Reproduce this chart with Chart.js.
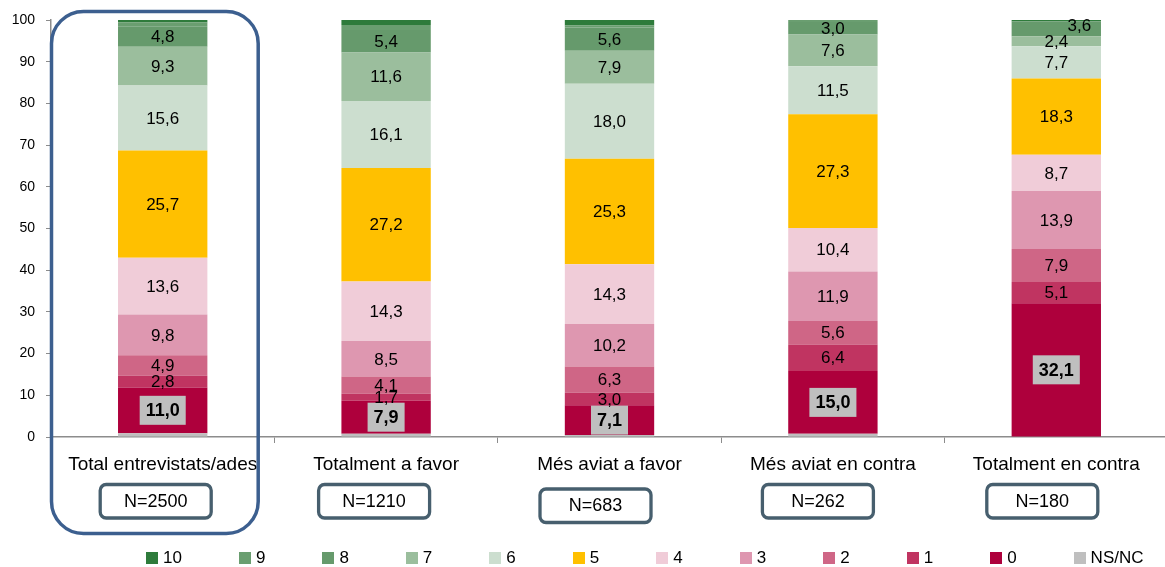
<!DOCTYPE html>
<html>
<head>
<meta charset="utf-8">
<script src="https://cdn.jsdelivr.net/npm/chart.js@4/dist/chart.umd.min.js"></script>
<style>
	html, body { margin: 0; padding: 0; background: #fff; overflow: hidden; }
	.chart-container { position: relative; width: 1168px; height: 567px; }
	#legend-container { position: absolute; left: 146px; top: 548px; }
	.legend-list { display: flex; list-style: none; margin: 0; padding: 0; }
	.legend-element { display: flex; align-items: center; margin-right: 57px; }
	.legend-element-color { display: inline-block; width: 12px; height: 12px; margin-right: 5px; }
	.legend-element-text { margin: 0; font: 17px 'Liberation Sans', Arial, sans-serif; line-height: 20px; color: #000; }
</style>
</head>
<body>
<div class="chart-container">
	<canvas id="scoreChart"></canvas>
	<div id="legend-container"></div>
</div>
<script>
// categories and sample sizes
const categories = ['Total entrevistats/ades', 'Totalment a favor', 'Més aviat a favor', 'Més aviat en contra', 'Totalment en contra'];
const sampleSizes = [2500, 1210, 683, 262, 180];

// series, stacked from the bottom up
const seriesNames = ['NS/NC', '0', '1', '2', '3', '4', '5', '6', '7', '8', '9', '10'];
const nsnc    = [0.9, 0.8, 0.5, 0.8, 0.0];
const score0  = [11.0, 7.9, 7.1, 15.0, 32.1];
const score1  = [2.8, 1.7, 3.0, 6.4, 5.1];
const score2  = [4.9, 4.1, 6.3, 5.6, 7.9];
const score3  = [9.8, 8.5, 10.2, 11.9, 13.9];
const score4  = [13.6, 14.3, 14.3, 10.4, 8.7];
const score5  = [25.7, 27.2, 25.3, 27.3, 18.3];
const score6  = [15.6, 16.1, 18.0, 11.5, 7.7];
const score7  = [9.3, 11.6, 7.9, 7.6, 2.4];
const score8  = [4.8, 5.4, 5.6, 3.0, 3.6];
const score9  = [1.0, 1.2, 0.5, 0.5, 0.0];
const score10 = [0.6, 1.2, 1.3, 0.0, 0.3];

// y axis tick labels
const yTickValues = [0, 10, 20, 30, 40, 50, 60, 70, 80, 90, 100];

// series that get a value label on the bar
const labelledSeries = ['0', '1', '2', '3', '4', '5', '6', '7', '8'];

const seriesValues = [nsnc, score0, score1, score2, score3, score4, score5, score6, score7, score8, score9, score10];
const seriesColors = ['#BFBFBF', '#AE003C', '#C03461', '#CF6686', '#DE97B0', '#F0CCD8', '#FFC000', '#CCDECF', '#9BBE9D', '#669A6C', '#6A9E70', '#2E7B3B'];

const FONT = "'Liberation Sans', Arial, sans-serif";

const formatComma = (v) => v.toFixed(1).replace('.', ',');

const valueLabels = {
	id: 'valueLabels',
	afterDatasetsDraw(chart) {
		const {ctx} = chart;
		ctx.save();
		ctx.textAlign = 'center';
		ctx.textBaseline = 'middle';

		chart.data.datasets.forEach((ds, i) => {
			if (!labelledSeries.includes(ds.label)) return;
			const meta = chart.getDatasetMeta(i);

			meta.data.forEach((bar, j) => {
				const value = ds.data[j];
				if (!value) return;
				const text = formatComma(value);
				let x = bar.x;
				let y = (bar.y + bar.base) / 2;

				// last bar: the small "8" label sits up and to the right
				if (ds.label === '8' && j === 4) { x += 23; y -= 3; }

				if (ds.label === '0') {
					// bold label in a grey box
					ctx.font = 'bold 18px ' + FONT;
					const w = ctx.measureText(text).width + 12;
					ctx.fillStyle = '#BFBFBF';
					ctx.fillRect(x - w / 2, y - 14.5, w, 29);
					ctx.fillStyle = '#000';
					ctx.fillText(text, x, y + 1);
				} else {
					ctx.font = '17px ' + FONT;
					ctx.fillStyle = '#000';
					ctx.fillText(text, x, y + 1);
				}
			});
		});
		ctx.restore();
	}
};

// N boxes under the category labels + highlight frame round the first category
const nBoxShift = [-7, -12, -14, -15, -14];
const annotations = {
	id: 'annotations',
	afterDraw(chart) {
		const {ctx, chartArea} = chart;
		const xScale = chart.scales.x;
		ctx.save();

		categories.forEach((c, i) => {
			const cx = xScale.getPixelForValue(i) + nBoxShift[i];
			const top = i === 2 ? 489 : 484.5;
			ctx.beginPath();
			ctx.roundRect(cx - 55.5, top, 111, 33.5, 6);
			ctx.lineWidth = 3.3;
			ctx.strokeStyle = '#475F6E';
			ctx.stroke();

			ctx.font = '18px ' + FONT;
			ctx.fillStyle = '#000';
			ctx.textAlign = 'center';
			ctx.textBaseline = 'middle';
			ctx.fillText('N=' + sampleSizes[i], cx, top + 17.5);
		});

		// highlight frame
		const c0 = xScale.getPixelForValue(0);
		ctx.beginPath();
		ctx.roundRect(chartArea.left + 0.5, chartArea.top - 8.5, c0 + 95 - chartArea.left, 533.5 - chartArea.top + 8.5, 32);
		ctx.lineWidth = 3.5;
		ctx.strokeStyle = '#3C5F8F';
		ctx.stroke();

		ctx.restore();
	}
};

const htmlLegendPlugin = {
	id: 'htmlLegend',
	afterUpdate(chart, args, options) {
		const legendContainer = document.getElementById(options.containerID);
		let listContainer = legendContainer.querySelector('ul');
		if (!listContainer) {
			listContainer = document.createElement('ul');
			listContainer.className = 'legend-list';
			legendContainer.appendChild(listContainer);
		}
		while (listContainer.firstChild) listContainer.firstChild.remove();

		// legend goes 10 ... 0, NS/NC
		const items = chart.data.datasets.map(ds => ds).reverse();
		items.forEach(ds => {
			const li = document.createElement('li');
			li.className = 'legend-element';
			const box = document.createElement('span');
			box.className = 'legend-element-color';
			box.style.backgroundColor = ds.backgroundColor;
			const p = document.createElement('p');
			p.className = 'legend-element-text';
			p.appendChild(document.createTextNode(ds.label));
			li.appendChild(box);
			li.appendChild(p);
			listContainer.appendChild(li);
		});
	}
};

const datasets = seriesNames.map((name, i) => ({
	label: name,
	data: seriesValues[i],
	backgroundColor: seriesColors[i],
	borderWidth: 0,
	barPercentage: 0.8,
	categoryPercentage: 0.5
}));

new Chart(document.getElementById('scoreChart'), {
	type: 'bar',
	data: { labels: categories, datasets },
	options: {
		responsive: true,
		maintainAspectRatio: false,
		animation: false,
		layout: { padding: { top: 20, right: 0, bottom: 0, left: 0 } },
		scales: {
			x: {
				stacked: true,
				border: { color: '#8C8C8C', width: 1.5 },
				grid: { drawOnChartArea: false, tickLength: 6, color: '#8C8C8C' },
				ticks: { color: '#000', font: { family: FONT, size: 19 }, padding: 10, maxRotation: 0 },
				afterFit(scale) { scale.height = 130; }
			},
			y: {
				stacked: true,
				min: 0,
				max: 100,
				border: { color: '#8C8C8C', width: 1.5 },
				grid: { drawOnChartArea: false, tickLength: 5, color: '#8C8C8C' },
				ticks: { color: '#000', font: { family: FONT, size: 14 }, padding: 11 },
				afterBuildTicks(scale) { scale.ticks = yTickValues.map(v => ({ value: v })); },
				afterFit(scale) { scale.width = 51; }
			}
		},
		plugins: {
			legend: { display: false },
			tooltip: { enabled: false },
			htmlLegend: { containerID: 'legend-container' }
		}
	},
	plugins: [valueLabels, annotations, htmlLegendPlugin]
});
</script>
</body>
</html>
